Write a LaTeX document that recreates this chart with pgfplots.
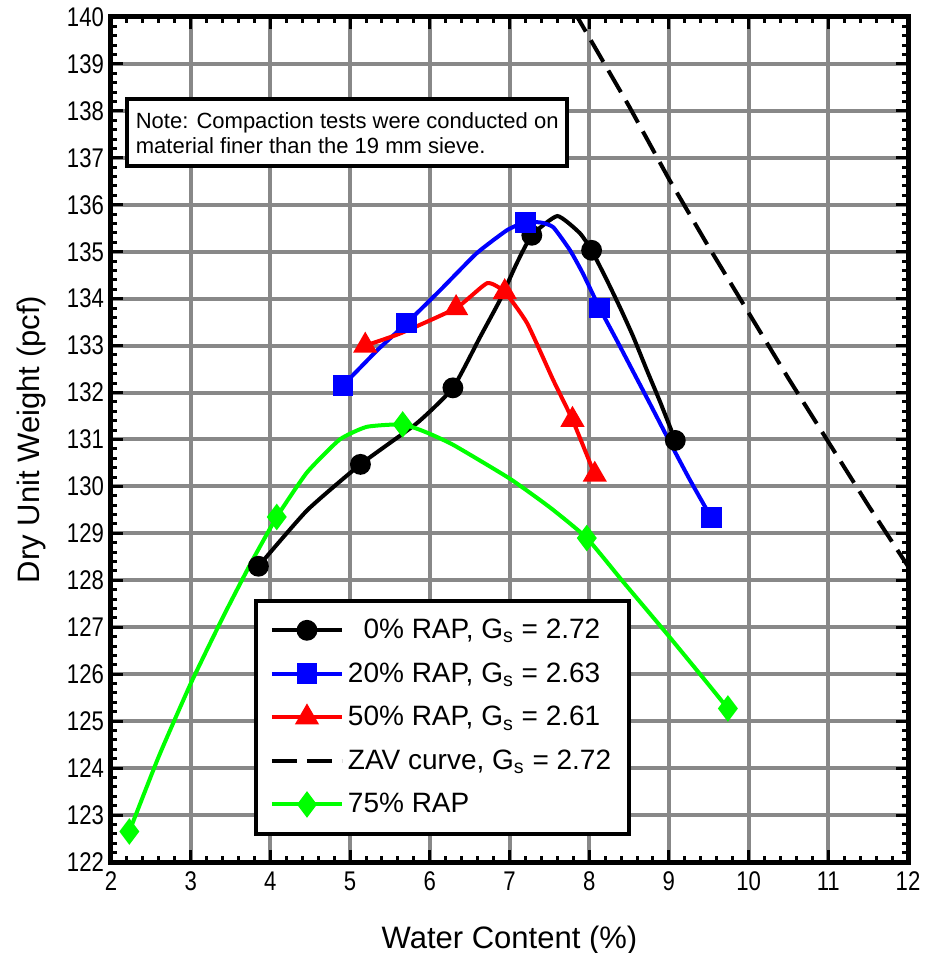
\documentclass[border=0pt]{standalone}
\usepackage{fontspec}
\setmainfont{Liberation Sans}
\newfontfamily\narrowfont[FakeStretch=0.82]{Liberation Sans}
\usepackage{pgfplots}
\pgfplotsset{compat=1.18}
\definecolor{gridgray}{RGB}{136,136,136}
\definecolor{pgreen}{RGB}{0,255,0}
\begin{document}
\begin{tikzpicture}
\begin{axis}[name=ax, scale only axis, width=398.5pt, height=422.5pt,
  xmin=2, xmax=12, ymin=122, ymax=140,
  xtick={2,...,12}, ytick={122,...,140},
  minor x tick num=4, minor y tick num=4,
  grid=major, major grid style={gridgray, line width=2pt},
  axis line style={line width=2.5pt},
  major tick length=6pt, minor tick length=3pt,
  every tick/.style={black, line width=1.5pt},
  tick align=inside,
  /pgf/number format/assume math mode=true,
  ticklabel style={font=\narrowfont\fontsize{13.5}{15}\selectfont},
  xticklabel style={yshift=-1.5pt},
  xlabel={Water Content (\%)}, ylabel={Dry Unit Weight (pcf)},
  label style={font=\fontsize{15.5}{18}\selectfont},
  xlabel style={at={(axis description cs:0.5,0)}, anchor=base, yshift=-43pt},
  ylabel style={at={(axis description cs:-0.0891,0.5)}, anchor=base},
  legend style={at={(0.1794,0.3112)}, anchor=north west, draw=black, line width=2pt,
    fill=white, font=\fontsize{14}{16}\selectfont, inner xsep=7pt, inner ysep=7pt,
    row sep=6.5pt, cells={anchor=west}},
  legend image code/.code={\draw[#1, mark indices={2}] plot coordinates {(0pt,0pt) (17.5pt,0pt) (35pt,0pt)};},
]
\addplot[black, line width=2pt, smooth, tension=0.3, mark=*, mark size=4.2pt,
  mark indices={1,3,5,9,12,18}, mark options={solid}] coordinates {
(3.85,128.3) (4.46,129.49) (5.13,130.47) (5.84,131.35) (6.29,132.1) (6.63,133.18)
(6.88,133.97) (7.09,134.75) (7.28,135.35) (7.6,135.76) (7.88,135.4) (8.03,135.03)
(8.22,134.4) (8.39,133.8) (8.55,133.2) (8.73,132.45) (8.89,131.8) (9.08,130.98)};
\addlegendentry{\phantom{2}0\% RAP, G\textsubscript{s} = 2.72}
\addplot[blue, line width=2pt, smooth, tension=0.3, mark=square*, mark size=4.2pt,
  mark indices={1,3,7,12,18}, mark options={solid}] coordinates {
(4.91,132.15) (5.34,132.9) (5.71,133.48) (6.13,134.18) (6.59,134.97) (6.97,135.46)
(7.2,135.63) (7.4,135.62) (7.55,135.52) (7.76,135.03) (7.92,134.54) (8.13,133.8)
(8.35,133.1) (8.55,132.45) (8.76,131.77) (9.01,130.95) (9.26,130.15) (9.53,129.34)};
\addlegendentry{20\% RAP, G\textsubscript{s} = 2.63}
\addplot[red, line width=2pt, smooth, tension=0.3, mark=triangle*, mark size=5pt,
  mark indices={1,3,5,8,9}, mark options={solid}] coordinates {
(5.19,133.0) (5.63,133.26) (6.33,133.8) (6.72,134.33) (6.94,134.14) (7.22,133.48)
(7.55,132.26) (7.79,131.42) (8.07,130.25)};
\addlegendentry{50\% RAP, G\textsubscript{s} = 2.61}
\addplot[black, line width=2pt, dash pattern=on 12.5pt off 5pt] coordinates {
(7.8,140.15) (8.5,138.1) (9.0,136.55) (9.5,135.1) (10.0,133.7) (10.5,132.3)
(11.0,130.95) (11.5,129.6) (12.0,128.3)};
\addlegendentry{ZAV curve, G\textsubscript{s} = 2.72}
\addplot[pgreen, line width=2pt, smooth, tension=0.3, mark=diamond*, mark size=5pt,
  mark indices={1,6,10,15,19}, mark options={solid}] coordinates {
(2.23,122.65) (2.6,124.25) (3.0,125.8) (3.4,127.2) (3.75,128.35) (4.08,129.35)
(4.46,130.3) (4.87,131.0) (5.21,131.27) (5.66,131.32) (5.96,131.15) (6.3,130.88)
(7.0,130.17) (7.51,129.55) (7.97,128.9) (8.42,127.98) (8.98,126.85) (9.43,125.92)
(9.74,125.27)};
\addlegendentry{75\% RAP}
\node[anchor=north west, draw=black, line width=2pt, fill=white, align=left,
  inner xsep=4.25pt, inner ysep=6.5pt, font=\fontsize{11}{12.5}\selectfont]
  at (axis cs:2.18,138.29) {Note: Compaction tests were conducted on\\material finer than the 19 mm sieve.};
\end{axis}
\pgfresetboundingbox
\path[use as bounding box] ([xshift=-55.5pt,yshift=-45.5pt]ax.south west) rectangle ([xshift=8.5pt,yshift=8.5pt]ax.north east);
\end{tikzpicture}
\end{document}
